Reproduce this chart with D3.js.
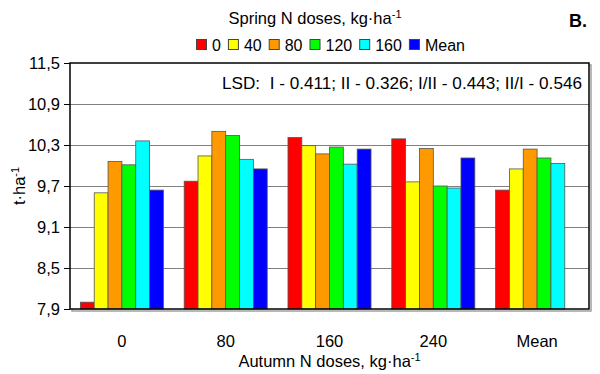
<!DOCTYPE html>
<html>
<head>
<meta charset="utf-8">
<script src="https://cdn.jsdelivr.net/npm/d3@7"></script>
<style>
  body { margin: 0; background: #fff; }
  text { font-family: "Liberation Sans", Arial, sans-serif; fill: #000; }
</style>
</head>
<body>
<div id="chart"></div>
<script>
// autumn doses on the x axis, spring doses as the bar series
var groups = ["0", "80", "160", "240", "Mean"];
var series = ["0", "40", "80", "120", "160", "Mean"];
var colors = ["#ff0000", "#ffff00", "#ff9900", "#00ff00", "#00ffff", "#0000ff"];

// one array per spring dose, values in the order of groups
var s0    = [8.00, 9.77, 10.41, 10.39, 9.64];
var s40   = [9.60, 10.14, 10.29, 9.76, 9.95];
var s80   = [10.06, 10.50, 10.17, 10.25, 10.24];
var s120  = [10.01, 10.44, 10.27, 9.70, 10.11];
var s160  = [10.36, 10.09, 10.02, 9.67, 10.03];
var sMean = [9.64, 9.95, 10.24, 10.11, null];
var values = [s0, s40, s80, s120, s160, sMean];

var yTicks = [7.9, 8.5, 9.1, 9.7, 10.3, 10.9, 11.5];

var W = 600, H = 374;
var m = {top: 63, right: 11, bottom: 65, left: 70};
var w = W - m.left - m.right, h = H - m.top - m.bottom;

var svg = d3.select("#chart").append("svg")
  .attr("width", W)
  .attr("height", H);

var g = svg.append("g").attr("transform", "translate(" + m.left + "," + m.top + ")");

var x0 = d3.scaleBand().domain(groups).range([0, w]);
var x1 = d3.scaleBand().domain(series)
  .range([x0.bandwidth() * 0.1, x0.bandwidth() * 0.9]);
var y = d3.scaleLinear().domain([7.9, 11.5]).range([h, 0]);

var fmt = function(d) { return d3.format(".1f")(d).replace(".", ","); };

// shadow of the frame
g.append("rect")
  .attr("x", 2).attr("y", 2)
  .attr("width", w).attr("height", h)
  .attr("fill", "none").attr("stroke", "#a0a0a0").attr("stroke-width", 1.5);
g.append("rect")
  .attr("width", w).attr("height", h)
  .attr("fill", "#fff");

// grid
g.selectAll(".grid").data(yTicks.slice(1, -1)).enter().append("line")
  .attr("x1", 0).attr("x2", w)
  .attr("y1", function(d) { return Math.round(y(d)) + 0.5; })
  .attr("y2", function(d) { return Math.round(y(d)) + 0.5; })
  .attr("stroke", "#808080").attr("stroke-width", 1);

// bars
var grp = g.selectAll(".grp").data(groups).enter().append("g")
  .attr("transform", function(d) { return "translate(" + x0(d) + ",0)"; });

grp.selectAll("rect")
  .data(function(d, i) {
    return series.map(function(s, j) { return {s: s, v: values[j][i], c: colors[j]}; })
      .filter(function(e) { return e.v != null; });
  })
  .enter().append("rect")
  .attr("x", function(d) { return x1(d.s); })
  .attr("width", x1.bandwidth())
  .attr("y", function(d) { return y(d.v); })
  .attr("height", function(d) { return h - y(d.v); })
  .attr("fill", function(d) { return d.c; })
  .attr("stroke", "#555").attr("stroke-width", 0.8);

// frame
g.append("rect")
  .attr("width", w).attr("height", h)
  .attr("fill", "none").attr("stroke", "#000").attr("stroke-width", 1.5);

// y axis
var yAxis = g.append("g")
  .call(d3.axisLeft(y).tickValues(yTicks).tickFormat(fmt).tickSize(6).tickPadding(4));
yAxis.select(".domain").remove();
yAxis.selectAll("line").attr("stroke", "#000");
yAxis.selectAll("text").style("font-size", "16.5px").attr("fill", "#000")
  .style("font-family", "'Liberation Sans', Arial, sans-serif");

// x axis labels
var xAxis = g.append("g").attr("transform", "translate(0," + h + ")")
  .call(d3.axisBottom(x0).tickSize(0).tickPadding(26));
xAxis.select(".domain").remove();
xAxis.selectAll("text").style("font-size", "16.5px").attr("fill", "#000")
  .style("font-family", "'Liberation Sans', Arial, sans-serif");

// axis titles
var xt = svg.append("text")
  .attr("x", m.left + w / 2).attr("y", 367)
  .attr("text-anchor", "middle").style("font-size", "16.5px");
xt.append("tspan").text("Autumn N doses, kg\u00b7ha");
xt.append("tspan").attr("dy", -6).style("font-size", "11px").text("-1");

var yt = svg.append("text")
  .attr("transform", "translate(25," + (m.top + h / 2) + ") rotate(-90)")
  .attr("text-anchor", "middle").style("font-size", "16.5px");
yt.append("tspan").text("t\u00b7ha");
yt.append("tspan").attr("dy", -6).style("font-size", "11px").text("-1");

// LSD note
g.append("text")
  .attr("x", w - 7).attr("y", 26)
  .attr("text-anchor", "end").style("font-size", "16.5px")
  .attr("xml:space", "preserve")
  .attr("textLength", 360).attr("lengthAdjust", "spacingAndGlyphs")
  .text("LSD:  I - 0.411; II - 0.326; I/II - 0.443; II/I - 0.546");

// legend title
var lt = svg.append("text")
  .attr("x", 315).attr("y", 24)
  .attr("text-anchor", "middle").style("font-size", "16.5px");
lt.append("tspan").text("Spring N doses, kg\u00b7ha");
lt.append("tspan").attr("dy", -6).style("font-size", "11px").text("-1");

svg.append("text")
  .attr("x", 587).attr("y", 27)
  .attr("text-anchor", "end").style("font-size", "18px").style("font-weight", "bold")
  .text("B.");

// legend
var leg = svg.append("g").attr("transform", "translate(196,39)");
var lx = 0;
series.forEach(function(s, i) {
  leg.append("rect")
    .attr("x", lx + 0.5).attr("y", 0.5)
    .attr("width", 10).attr("height", 10)
    .attr("fill", colors[i]).attr("stroke", "#444").attr("stroke-width", 1);
  var t = leg.append("text")
    .attr("x", lx + 16).attr("y", 11.5)
    .style("font-size", "16px")
    .text(s);
  lx += 16 + t.node().getComputedTextLength() + 7;
});
</script>
</body>
</html>
